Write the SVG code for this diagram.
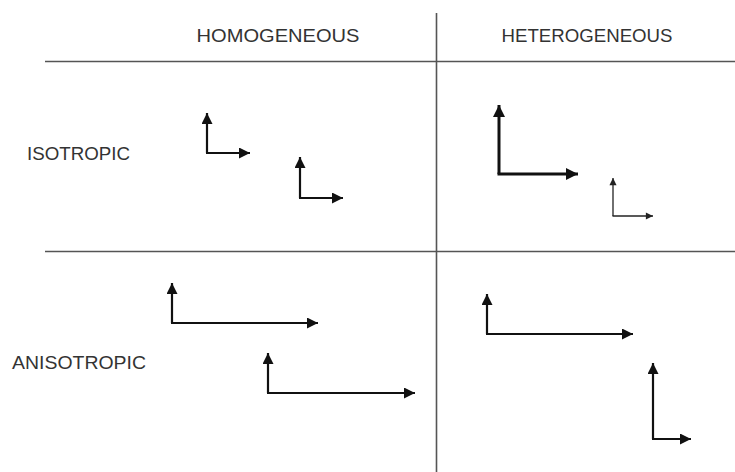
<svg xmlns="http://www.w3.org/2000/svg" width="735" height="472" viewBox="0 0 735 472">
<style>
.grid{stroke:#555;stroke-width:1.6;fill:none}
.lbl{font-family:"Liberation Sans",Arial,sans-serif;font-size:18px;fill:#333}
.ax{stroke:#111;stroke-width:2.2;fill:none}
.ax3{stroke:#111;stroke-width:3;fill:none}
.ax1{stroke:#222;stroke-width:1.3;fill:none}
</style>
<defs>
<marker id="ah" viewBox="0 0 10 10" refX="10" refY="5" markerWidth="5.5" markerHeight="5" markerUnits="strokeWidth" orient="auto"><path d="M0,0 L10,5 L0,10 z" fill="#111"/></marker>
<marker id="ah3" viewBox="0 0 10 10" refX="10" refY="5" markerWidth="4.4" markerHeight="4" markerUnits="strokeWidth" orient="auto"><path d="M0,0 L10,5 L0,10 z" fill="#111"/></marker>
<marker id="ah1" viewBox="0 0 10 10" refX="10" refY="5" markerWidth="6.5" markerHeight="5.5" markerUnits="strokeWidth" orient="auto"><path d="M0,0 L10,5 L0,10 z" fill="#222"/></marker>
</defs>
<g id="grid">
<line class="grid" x1="45" y1="61.5" x2="735" y2="61.5"/>
<line class="grid" x1="45" y1="251.5" x2="735" y2="251.5"/>
<line class="grid" x1="436.5" y1="13" x2="436.5" y2="472"/>
</g>
<g id="labels">
<text id="homogeneous" class="lbl" x="278" y="42" text-anchor="middle" textLength="163" lengthAdjust="spacingAndGlyphs">HOMOGENEOUS</text>
<text id="heterogeneous" class="lbl" x="587" y="42" text-anchor="middle" textLength="171" lengthAdjust="spacingAndGlyphs">HETEROGENEOUS</text>
<text id="isotropic" class="lbl" x="27" y="160" textLength="103" lengthAdjust="spacingAndGlyphs">ISOTROPIC</text>
<text id="anisotropic" class="lbl" x="12" y="369" textLength="134" lengthAdjust="spacingAndGlyphs">ANISOTROPIC</text>
</g>
<g id="connectors">
<g id="iso-homo-1"><line class="ax" x1="207" y1="153" x2="207" y2="113" marker-end="url(#ah)"/><line class="ax" x1="206" y1="153" x2="250" y2="153" marker-end="url(#ah)"/></g>
<g id="iso-homo-2"><line class="ax" x1="300" y1="198" x2="300" y2="157" marker-end="url(#ah)"/><line class="ax" x1="299" y1="198" x2="343" y2="198" marker-end="url(#ah)"/></g>
<g id="iso-het-1"><line class="ax3" x1="499" y1="174" x2="499" y2="105" marker-end="url(#ah3)"/><line class="ax3" x1="497.5" y1="174" x2="578" y2="174" marker-end="url(#ah3)"/></g>
<g id="iso-het-2"><line class="ax1" x1="613" y1="216" x2="613" y2="178" marker-end="url(#ah1)"/><line class="ax1" x1="612.5" y1="216" x2="653" y2="216" marker-end="url(#ah1)"/></g>
<g id="aniso-homo-1"><line class="ax" x1="172" y1="323" x2="172" y2="283" marker-end="url(#ah)"/><line class="ax" x1="171" y1="323" x2="318" y2="323" marker-end="url(#ah)"/></g>
<g id="aniso-homo-2"><line class="ax" x1="268" y1="393" x2="268" y2="353" marker-end="url(#ah)"/><line class="ax" x1="267" y1="393" x2="415" y2="393" marker-end="url(#ah)"/></g>
<g id="aniso-het-1"><line class="ax" x1="487" y1="334" x2="487" y2="294" marker-end="url(#ah)"/><line class="ax" x1="486" y1="334" x2="633" y2="334" marker-end="url(#ah)"/></g>
<g id="aniso-het-2"><line class="ax" x1="653" y1="439" x2="653" y2="363" marker-end="url(#ah)"/><line class="ax" x1="652" y1="439" x2="691" y2="439" marker-end="url(#ah)"/></g>
</g>
</svg>
